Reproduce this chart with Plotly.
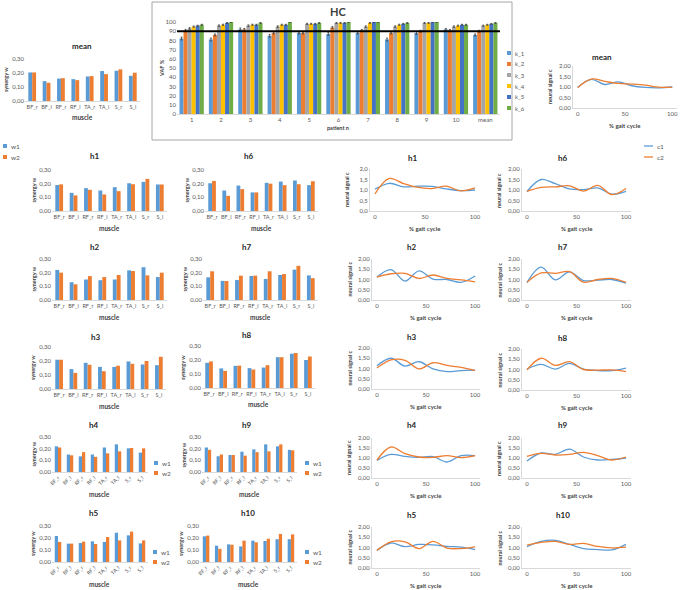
import plotly.graph_objects as go

W, H = 685, 590

# ---------------- data ----------------
muscles = ["BF_r", "BF_l", "RF_r", "RF_l", "TA_r", "TA_l", "S_r", "S_l"]
patients = ["1", "2", "3", "4", "5", "6", "7", "8", "9", "10", "mean"]
k_names = ["k_1", "k_2", "k_3", "k_4", "k_5", "k_6"]
gait = [0, 14.3, 28.6, 42.9, 57.1, 71.4, 85.7, 100]
vaf_threshold = 90

k1 = [82, 81, 92, 85, 88, 87, 88, 81, 88, 92, 86]
k2 = [91, 86, 92, 88, 88, 94, 91, 88, 90, 91, 90]
k3 = [93, 96, 96, 95, 98, 99, 95, 95, 99, 95, 96]
k4 = [95, 97, 97, 97, 98, 99, 99, 97, 99, 96, 97]
k5 = [96, 99, 97, 97, 98, 99, 100, 98, 100, 97, 98]
k6 = [97, 100, 99, 100, 99, 100, 100, 99, 100, 97, 99]
e1 = [1.5, 1.5, 1.5, 1.5, 1.0, 1.5, 1.0, 1.5, 1.5, 1.0, 1.0]
e2 = [1.0, 1.0, 1.0, 1.0, 1.0, 1.0, 1.0, 1.0, 1.0, 1.0, 1.0]
e3 = [0.8, 0.8, 0.8, 0.8, 0.6, 0.6, 0.8, 0.8, 0.6, 0.8, 0.6]
e4 = [0.6, 0.6, 0.6, 0.6, 0.5, 0.5, 0.5, 0.6, 0.5, 0.6, 0.5]
e5 = [0.5, 0.5, 0.5, 0.5, 0.5, 0.5, 0.4, 0.5, 0.4, 0.5, 0.5]
e6 = [0.5, 0.4, 0.5, 0.4, 0.5, 0.4, 0.4, 0.5, 0.4, 0.5, 0.4]

w1_mean = [0.204, 0.142, 0.160, 0.156, 0.175, 0.214, 0.216, 0.180]
w2_mean = [0.204, 0.130, 0.163, 0.149, 0.178, 0.192, 0.226, 0.202]
w1_h1 = [0.190, 0.133, 0.167, 0.150, 0.174, 0.203, 0.213, 0.194]
w2_h1 = [0.195, 0.114, 0.155, 0.121, 0.145, 0.196, 0.235, 0.194]
w1_h2 = [0.220, 0.130, 0.150, 0.145, 0.150, 0.217, 0.240, 0.168]
w2_h2 = [0.200, 0.115, 0.175, 0.168, 0.183, 0.212, 0.180, 0.200]
w1_h3 = [0.209, 0.142, 0.187, 0.158, 0.158, 0.197, 0.175, 0.170]
w2_h3 = [0.209, 0.115, 0.173, 0.127, 0.166, 0.180, 0.200, 0.230]
w1_h4 = [0.220, 0.150, 0.134, 0.150, 0.210, 0.237, 0.203, 0.166]
w2_h4 = [0.210, 0.143, 0.170, 0.130, 0.160, 0.177, 0.206, 0.203]
w1_h5 = [0.217, 0.153, 0.158, 0.172, 0.167, 0.244, 0.222, 0.155]
w2_h5 = [0.167, 0.153, 0.170, 0.150, 0.208, 0.180, 0.253, 0.180]
w1_h6 = [0.203, 0.150, 0.186, 0.136, 0.206, 0.215, 0.223, 0.189]
w2_h6 = [0.220, 0.111, 0.160, 0.136, 0.200, 0.189, 0.196, 0.218]
w1_h7 = [0.166, 0.140, 0.146, 0.176, 0.154, 0.183, 0.222, 0.180]
w2_h7 = [0.210, 0.139, 0.178, 0.178, 0.210, 0.190, 0.250, 0.160]
w1_h8 = [0.180, 0.140, 0.158, 0.142, 0.146, 0.220, 0.245, 0.200]
w2_h8 = [0.190, 0.122, 0.160, 0.132, 0.163, 0.220, 0.250, 0.225]
w1_h9 = [0.210, 0.135, 0.146, 0.174, 0.194, 0.237, 0.220, 0.190]
w2_h9 = [0.190, 0.150, 0.146, 0.140, 0.170, 0.177, 0.237, 0.186]
w1_h10 = [0.214, 0.136, 0.147, 0.130, 0.178, 0.175, 0.190, 0.190]
w2_h10 = [0.220, 0.110, 0.144, 0.178, 0.164, 0.194, 0.234, 0.230]

c1_mean = [0.98, 1.36, 1.12, 1.24, 1.06, 0.98, 0.96, 1.00]
c2_mean = [0.98, 1.38, 1.27, 1.17, 1.14, 1.09, 0.99, 0.99]
c1_h1 = [1.04, 1.32, 1.15, 1.18, 1.17, 1.05, 0.97, 1.00]
c2_h1 = [0.82, 1.55, 1.30, 1.12, 1.07, 1.18, 0.96, 1.10]
c1_h2 = [1.12, 1.48, 0.92, 1.42, 1.02, 1.00, 0.86, 1.17]
c2_h2 = [1.12, 1.28, 1.30, 1.05, 1.22, 1.05, 0.98, 0.88]
c1_h3 = [1.13, 1.50, 1.12, 1.33, 0.98, 0.85, 0.90, 0.92]
c2_h3 = [1.02, 1.42, 1.40, 0.98, 1.28, 1.15, 1.05, 0.90]
c1_h4 = [0.88, 1.18, 1.08, 1.03, 1.07, 0.80, 1.12, 1.12]
c2_h4 = [0.90, 1.55, 1.22, 1.05, 1.03, 1.12, 1.02, 1.12]
c1_h5 = [0.86, 1.22, 1.04, 1.15, 1.13, 1.05, 1.02, 0.90]
c2_h5 = [0.86, 1.28, 1.28, 0.95, 1.30, 0.97, 0.95, 1.03]
c1_h6 = [0.93, 1.50, 1.30, 1.05, 1.02, 1.10, 0.80, 0.93]
c2_h6 = [0.93, 1.12, 1.15, 1.20, 0.95, 1.22, 0.78, 1.07]
c1_h7 = [0.85, 1.60, 0.98, 1.37, 0.95, 0.97, 1.00, 0.82]
c2_h7 = [0.86, 1.32, 1.30, 1.38, 0.87, 1.00, 1.05, 0.86]
c1_h8 = [1.02, 1.25, 1.02, 1.30, 1.02, 0.95, 0.95, 1.07]
c2_h8 = [0.98, 1.55, 1.20, 1.38, 1.00, 0.97, 0.98, 0.90]
c1_h9 = [0.85, 1.25, 1.18, 1.44, 1.05, 0.90, 0.93, 1.00]
c2_h9 = [1.08, 1.23, 1.15, 1.18, 1.28, 1.12, 0.90, 1.05]
c1_h10 = [1.04, 1.30, 1.35, 1.15, 0.95, 0.90, 0.88, 1.15]
c2_h10 = [1.12, 1.25, 1.30, 1.15, 1.20, 1.05, 0.98, 1.02]

# ---------------- styling ----------------
BLUE = "#5B9BD5"
ORANGE = "#ED7D31"
K_COLORS = ["#5B9BD5", "#ED7D31", "#A5A5A5", "#FFC000", "#4472C4", "#70AD47"]
FONT = "Lato, 'Liberation Sans', sans-serif"
TICKFONT = dict(family=FONT, size=6, color="#595959")
AXLINE = "#D9D9D9"

fig = go.Figure()
layout = {}
annotations = []
shapes = []
counter = [0]


def px(x):
    return x / W


def py(y):
    return 1 - y / H


def new_axes(x0, x1, yt, yb, xcfg, ycfg):
    counter[0] += 1
    n = counter[0]
    s = "" if n == 1 else str(n)
    base = dict(automargin=False, showgrid=False, zeroline=False,
                fixedrange=True, tickfont=TICKFONT)
    xd = dict(base)
    xd.update(xcfg)
    xd.update(domain=[px(x0), px(x1)], anchor="y" + s)
    yd = dict(base)
    yd.update(ycfg)
    yd.update(domain=[py(yb), py(yt)], anchor="x" + s)
    layout["xaxis" + s] = xd
    layout["yaxis" + s] = yd
    return "x" + s, "y" + s


def text(x, y, t, size=6, bold=False, angle=0, color="#404040", xanchor="center"):
    annotations.append(dict(x=px(x), y=py(y), xref="paper", yref="paper",
                            text=("<b>%s</b>" % t) if bold else t, showarrow=False,
                            textangle=angle, xanchor=xanchor, yanchor="middle",
                            font=dict(family=FONT, size=size, color=color)))


# ---------------- HC panel ----------------
shapes.append(dict(type="rect", xref="paper", yref="paper", x0=px(152), x1=px(512),
                   y0=py(140), y1=py(2), line=dict(color="#A6A6A6", width=1)))
xa, ya = new_axes(177, 500, 22, 114,
                  dict(type="category", showline=True, linecolor=AXLINE, ticks=""),
                  dict(range=[0, 100], dtick=10, showline=False, ticks=""))
k_series = [k1, k2, k3, k4, k5, k6]
e_series = [e1, e2, e3, e4, e5, e6]
for i, (name, vals, errs) in enumerate(zip(k_names, k_series, e_series)):
    fig.add_trace(go.Bar(x=patients, y=vals, name=name, xaxis=xa, yaxis=ya,
                         marker=dict(color=K_COLORS[i], line=dict(width=0)),
                         width=0.138, offset=-0.415 + i * 0.138,
                         error_y=dict(type="data", array=errs, visible=True,
                                      color="#404040", thickness=0.8, width=1),
                         showlegend=False))
shapes.append(dict(type="line", xref=xa + " domain", x0=0, x1=1, yref=ya,
                   y0=vaf_threshold, y1=vaf_threshold, line=dict(color="black", width=2)))
text(338, 11, "HC", size=11, bold=True)
text(162, 68, "VAF %", size=5.5, bold=True, angle=-90)
text(338, 128, "patient n", size=5.5, bold=True)
for i, name in enumerate(k_names):
    yy = 53 + i * 11
    shapes.append(dict(type="rect", xref="paper", yref="paper", x0=px(507), x1=px(511),
                       y0=py(yy + 2), y1=py(yy - 2), fillcolor=K_COLORS[i], line=dict(width=0)))
    text(513, yy, name, size=6, color="#595959", xanchor="left")


# ---------------- synergy bar panels ----------------
def bar_panel(title, w1, w2, x0, x1, yt, yb, rotated, tx, ty):
    xa, ya = new_axes(x0, x1, yt, yb,
                      dict(type="category", showline=True, linecolor=AXLINE, ticks="",
                           tickangle=-45 if rotated else 0,
                           tickfont=dict(family=FONT, size=5 if rotated else 5.5, color="#595959")),
                      dict(range=[0, 0.3], dtick=0.1, tickformat=".2f", showline=False,
                           ticks=""))
    fig.add_trace(go.Bar(x=muscles, y=w1, name="w1", xaxis=xa, yaxis=ya, width=0.27,
                         offset=-0.27, marker=dict(color=BLUE, line=dict(width=0)),
                         showlegend=False))
    fig.add_trace(go.Bar(x=muscles, y=w2, name="w2", xaxis=xa, yaxis=ya, width=0.27,
                         offset=0.0, marker=dict(color=ORANGE, line=dict(width=0)),
                         showlegend=False))
    text(tx, ty, title, size=8, bold=True, color="#262626")
    text((x0 + x1) / 2, yb + (22 if rotated else 17), "muscle", size=6.5, bold=True)
    text(x0 - 19, (yt + yb) / 2, "synergy w", size=5.5, bold=True, angle=-90)


bar_panel("mean", w1_mean, w2_mean, 25, 140, 59, 101, False, 82, 46)
bar_panel("h1", w1_h1, w2_h1, 52, 167, 170, 211, False, 95, 156)
bar_panel("h2", w1_h2, w2_h2, 52, 167, 259, 300, False, 95, 247)
bar_panel("h3", w1_h3, w2_h3, 52, 166, 347, 389, False, 96, 337)
bar_panel("h4", w1_h4, w2_h4, 52, 148, 437, 472, True, 94, 425)
bar_panel("h5", w1_h5, w2_h5, 52, 148, 526, 562, True, 94, 513)
bar_panel("h6", w1_h6, w2_h6, 205, 318, 170, 211, False, 249, 156)
bar_panel("h7", w1_h7, w2_h7, 203, 318, 259, 300, False, 247, 247)
bar_panel("h8", w1_h8, w2_h8, 202, 315, 346, 388, False, 247, 335)
bar_panel("h9", w1_h9, w2_h9, 202, 297, 437, 472, True, 247, 425)
bar_panel("h10", w1_h10, w2_h10, 200, 297, 526, 562, True, 248, 513)


def w_legend(x, y1, y2):
    for yy, nm, col in ((y1, "w1", BLUE), (y2, "w2", ORANGE)):
        shapes.append(dict(type="rect", xref="paper", yref="paper", x0=px(x), x1=px(x + 4),
                           y0=py(yy + 2), y1=py(yy - 2), fillcolor=col, line=dict(width=0)))
        text(x + 6, yy, nm, size=6.5, color="#595959", xanchor="left")


w_legend(3, 146, 157)
w_legend(154, 463, 473)
w_legend(153, 552, 562)
w_legend(305, 463, 473)
w_legend(305, 552, 562)


# ---------------- neural signal line panels ----------------
def line_panel(title, c1, c2, x0, x1, yt, yb, tx, ty, fmt=".2f", xt_off=17):
    xa, ya = new_axes(x0, x1, yt, yb,
                      dict(range=[-5, 105], tickvals=[0, 50, 100], showline=True,
                           linecolor=AXLINE, ticks=""),
                      dict(range=[0, 2], dtick=0.5, tickformat=fmt, showline=True,
                           linecolor=AXLINE, ticks=""))
    fig.add_trace(go.Scatter(x=gait, y=c1, name="c1", mode="lines", xaxis=xa, yaxis=ya,
                             line=dict(color=BLUE, width=1.3, shape="spline", smoothing=1.0),
                             showlegend=False))
    fig.add_trace(go.Scatter(x=gait, y=c2, name="c2", mode="lines", xaxis=xa, yaxis=ya,
                             line=dict(color=ORANGE, width=1.3, shape="spline", smoothing=1.0),
                             showlegend=False))
    text(tx, ty, title, size=8, bold=True, color="#262626")
    text((x0 + x1) / 2, yb + xt_off, "% gait cycle", size=6, bold=True)
    text(x0 - 23, (yt + yb) / 2, "neural signal c", size=5.5, bold=True, angle=-90)


line_panel("mean", c1_mean, c2_mean, 573, 677, 66, 108, 602, 57)
line_panel("h1", c1_h1, c2_h1, 370, 480, 169, 211, 413, 158, fmt=".1f")
line_panel("h2", c1_h2, c2_h2, 372, 480, 259, 300, 412, 247)
line_panel("h3", c1_h3, c2_h3, 372, 480, 348, 389, 412, 337)
line_panel("h4", c1_h4, c2_h4, 372, 480, 438, 478, 412, 425)
line_panel("h5", c1_h5, c2_h5, 372, 480, 527, 568, 412, 515)
line_panel("h6", c1_h6, c2_h6, 522, 631, 169, 211, 563, 158)
line_panel("h7", c1_h7, c2_h7, 522, 631, 259, 300, 563, 247)
line_panel("h8", c1_h8, c2_h8, 522, 631, 349, 390, 563, 338)
line_panel("h9", c1_h9, c2_h9, 522, 631, 438, 478, 563, 425)
line_panel("h10", c1_h10, c2_h10, 522, 631, 527, 568, 563, 515)

for yy, nm, col in ((146, "c1", BLUE), (157, "c2", ORANGE)):
    shapes.append(dict(type="line", xref="paper", yref="paper", x0=px(644), x1=px(653),
                       y0=py(yy), y1=py(yy), line=dict(color=col, width=1.3)))
    text(655, yy, nm, size=6.5, color="#595959", xanchor="left")

layout.update(dict(width=W, height=H, margin=dict(l=0, r=0, t=0, b=0),
                   paper_bgcolor="white", plot_bgcolor="white", barmode="overlay",
                   separators=", ", showlegend=False,
                   font=dict(family=FONT, color="#595959"),
                   annotations=annotations, shapes=shapes))
fig.update_layout(**layout)
fig.write_html("out.html", config={"displayModeBar": False},
               post_script="document.body.style.margin='0px';document.body.style.overflow='hidden';")
